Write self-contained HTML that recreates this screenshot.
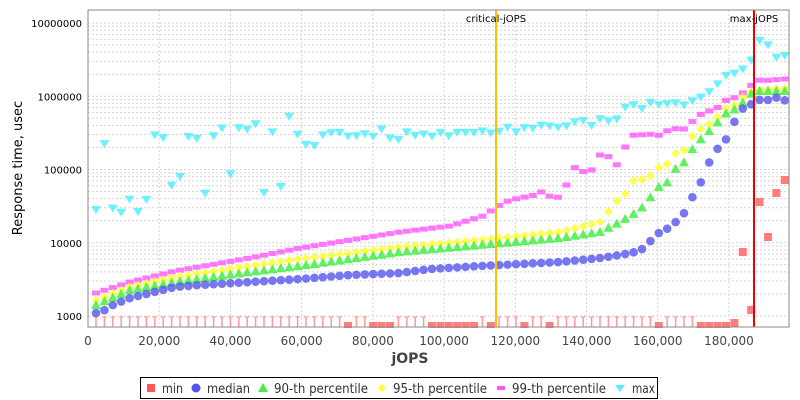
<!DOCTYPE html>
<html><head><meta charset="utf-8"><style>
body{margin:0;background:#fff;}
svg{display:block;font-family:"DejaVu Sans","Liberation Sans",sans-serif;}
</style></head><body>
<svg id="s" width="800" height="400" xmlns="http://www.w3.org/2000/svg">
<rect width="800" height="400" fill="#fff"/>
<g id="grid"></g>
<g id="data"></g>
<line x1="496" y1="10" x2="496" y2="327" stroke="#ffc000" stroke-width="2"/>
<line x1="754" y1="10" x2="754" y2="327" stroke="#ee0000" stroke-width="2"/>
<text x="496" y="22" font-size="10" text-anchor="middle" fill="#000">critical-jOPS</text>
<text x="754" y="22" font-size="10" text-anchor="middle" fill="#000">max-jOPS</text>
<rect x="88" y="10" width="701" height="317" fill="none" stroke="#888" stroke-width="1"/>
<g id="ax" font-size="12" fill="#444"></g>
<text x="410" y="363" font-size="14" font-weight="bold" text-anchor="middle" fill="#444">jOPS</text>
<text transform="translate(22,168) rotate(-90)" font-size="13" text-anchor="middle" fill="#000">Response time, usec</text>
<rect x="140.5" y="377.5" width="517" height="21" fill="#fff" stroke="#000"/>
<g font-size="13" fill="#333">
<rect x="147" y="384" width="8" height="8" fill="#f55"/><text x="162" y="393" textLength="21" lengthAdjust="spacingAndGlyphs">min</text>
<circle cx="196" cy="388" r="4.5" fill="#5555ee"/><text x="207" y="393" textLength="43" lengthAdjust="spacingAndGlyphs">median</text>
<polygon points="263,383 268,392 258,392" fill="#44ee44"/><text x="274" y="393" textLength="94" lengthAdjust="spacingAndGlyphs">90-th percentile</text>
<polygon points="382,384 386,388 382,392 378,388" fill="#ffff33"/><text x="393" y="393" textLength="94" lengthAdjust="spacingAndGlyphs">95-th percentile</text>
<rect x="497" y="386" width="8" height="4" fill="#ff55ff"/><text x="512" y="393" textLength="94" lengthAdjust="spacingAndGlyphs">99-th percentile</text>
<polygon points="615,385 625,385 620,392" fill="#55eeff"/><text x="632" y="393" textLength="23" lengthAdjust="spacingAndGlyphs">max</text>
</g>
</svg>
<script>
const NS="http://www.w3.org/2000/svg";
const g=document.getElementById('grid'),d=document.getElementById('data'),ax=document.getElementById('ax');
function el(p,t,a){const e=document.createElementNS(NS,t);for(const k in a)e.setAttribute(k,a[k]);p.appendChild(e);return e;}
const Y=v=>316-73.25*(Math.log10(v)-3);
for(let dec=1000;dec<=10000000;dec*=10){for(let m=1;m<=9;m++){const y=Y(dec*m);if(y<10||y>327)continue;
el(g,'line',{x1:88,x2:789,y1:y,y2:y,stroke:'#d4d4d4','stroke-dasharray':'2,2','stroke-width':1});}
const y=Y(dec);const t=el(ax,'text',{x:82,y:y+4,'text-anchor':'end','font-size':10,fill:'#000'});t.textContent=String(dec);}
for(let k=0;k<=180000;k+=20000){const x=88+k*0.003561;
if(k>0)el(g,'line',{x1:x,x2:x,y1:10,y2:327,stroke:'#d4d4d4','stroke-dasharray':'2,2'});
const t=el(ax,'text',{x:x,y:345,'text-anchor':'middle'});t.textContent=k.toLocaleString('en-US');}
function interp(k,x){if(x<=k[0][0])return k[0][1];for(let i=1;i<k.length;i++)if(x<=k[i][0]){const a=k[i-1],b=k[i];return a[1]+(b[1]-a[1])*(x-a[0])/(b[0]-a[0]);}return k[k.length-1][1];}
const xs=[];for(let i=0;i<83;i++)xs.push(96+i*8.4);
const med=[[96,313],[105,310],[113,305],[130,298],[150,293],[175,287],[200,285],[250,282],[300,279],[350,275],[400,273],[430,269],[480,266],[520,264],[560,262],[600,258],[620,255],[640,251],[662,230],[670,228],[687,210],[695,191],[703,179],[712,155],[721,145],[729,136],[737,115],[746,105],[754,104],[762,98],[771,101],[779,96],[787,102]];
const p90=[[96,305],[130,290],[175,282],[250,272],[300,266],[350,259],[400,252],[480,245],[560,238],[600,232],[620,222],[640,210],[662,183],[670,182],[678,163],[687,162],[695,143],[703,138],[712,128],[721,119],[729,110],[737,109],[746,99],[754,91],[787,91]];
const p95=[[96,300],[130,287],[175,277],[250,266],[300,259],[350,253],[400,247],[480,240],[560,232],[600,222],[620,197],[628,192],[636,176],[644,181],[653,174],[662,164],[670,164],[678,149],[687,151],[695,129],[703,129],[712,122],[721,114],[729,105],[737,105],[746,93],[754,91],[787,88]];
const p99=[[96,293],[130,282],[175,271],[250,258],[300,248],[350,240],[400,232],[450,226],[483,216],[500,205],[510,200],[535,195],[543,191],[552,198],[560,197],[568,182],[577,163],[585,174],[593,169],[602,151],[611,159],[619,167],[628,138],[636,134],[644,135],[653,134],[662,136],[670,128],[678,129],[687,129],[695,118],[703,113],[712,110],[721,106],[729,97],[737,98],[746,90],[754,83],[762,79],[771,81],[779,79],[787,79]];
const mx=[[96,210],[104,141],[113,210],[121,213],[130,199],[138,212],[146,203],[155,134],[163,137],[172,188],[180,177],[189,134],[197,139],[206,199],[214,133],[223,128],[231,178],[239,127],[248,130],[256,124],[264,193],[273,128],[282,196],[290,108],[298,136],[307,146],[315,146],[323,135],[332,133],[340,133],[349,137],[357,136],[366,134],[374,137],[383,128],[391,140],[400,140],[408,131],[417,137],[425,134],[433,137],[442,132],[450,137],[459,132],[467,133],[476,133],[484,131],[492,134],[501,131],[509,127],[517,133],[526,127],[534,129],[543,125],[552,127],[560,128],[568,126],[577,121],[585,121],[593,127],[602,117],[611,123],[619,118],[628,103],[636,106],[644,110],[653,100],[662,108],[670,102],[678,104],[687,106],[695,99],[703,97],[712,90],[721,81],[729,73],[737,74],[746,67],[754,57],[762,34],[771,51],[779,61],[787,54]];
const minPts={737:323,746:252,754:310,762:202,771:237,779:193,787:180};
const bot=[349,371,380,388,433,442,450,459,467,476,492,526,551,662,703,712,720,729];
xs.forEach(x=>{
let special=null;for(const k in minPts)if(Math.abs(k-x)<4)special=minPts[k];
let isBot=bot.some(b=>Math.abs(b-x)<4.3);
if(special!==null){el(d,'rect',{x:x-4,y:special-4,width:8,height:8,fill:'#f66','fill-opacity':0.85});}
else if(isBot){el(d,'rect',{x:x-4,y:322,width:8,height:6,fill:'#f66','fill-opacity':0.85});}
else{el(d,'line',{x1:x,x2:x,y1:317,y2:327,stroke:'#f99','stroke-width':1.5});el(d,'line',{x1:x-2.5,x2:x+2.5,y1:317,y2:317,stroke:'#f99'});}
});
xs.forEach(x=>{const y=interp(mx,x);el(d,'polygon',{points:`${x-5},${y-4} ${x+5},${y-4} ${x},${y+4}`,fill:'#55eeff','fill-opacity':0.85});});
xs.forEach(x=>{const y=interp(p99,x);el(d,'rect',{x:x-4,y:y-2.5,width:8,height:5,fill:'#ff55ff','fill-opacity':0.8});});
xs.forEach(x=>{const y=interp(p95,x);el(d,'polygon',{points:`${x},${y-4.5} ${x+4.5},${y} ${x},${y+4.5} ${x-4.5},${y}`,fill:'#ffff33','fill-opacity':0.85});});
xs.forEach(x=>{const y=interp(p90,x);el(d,'polygon',{points:`${x},${y-5} ${x+5},${y+4} ${x-5},${y+4}`,fill:'#44ee44','fill-opacity':0.85});});
xs.forEach(x=>{const y=interp(med,x);el(d,'circle',{cx:x,cy:y,r:4.3,fill:'#5555ee','fill-opacity':0.8});});
</script>
</body></html>
